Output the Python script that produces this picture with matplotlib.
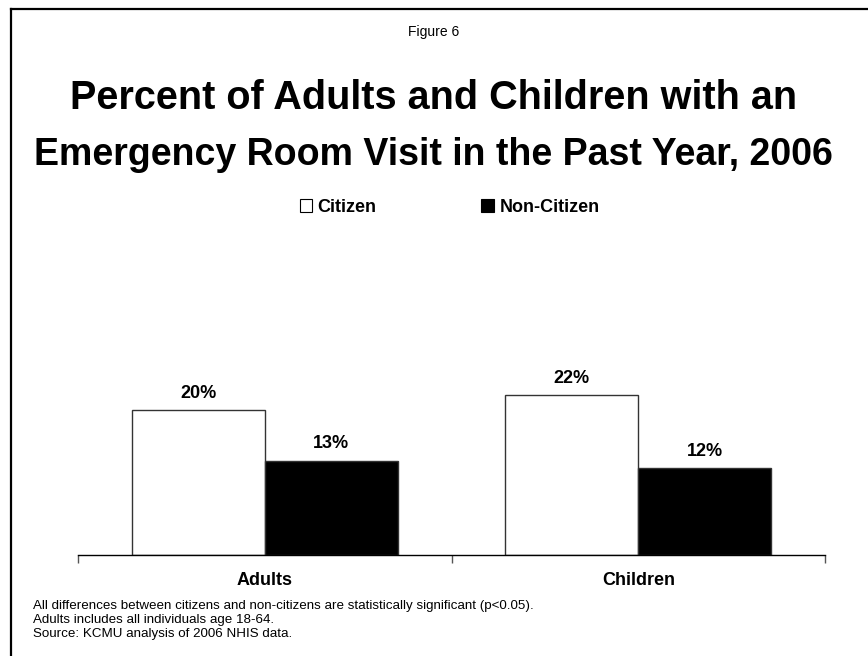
import matplotlib.pyplot as plt
from matplotlib.patches import Patch
from matplotlib.lines import Line2D
import numpy as np

plt.rcParams['font.family'] = ['Liberation Sans', 'DejaVu Sans']

# -- Data --
groups = ["Adults", "Children"]
series = ["Citizen", "Non-Citizen"]
citizen = [20, 22]
non_citizen = [13, 12]
notes = [
    "All differences between citizens and non-citizens are statistically significant (p<0.05).",
    "Adults includes all individuals age 18-64.",
    "Source: KCMU analysis of 2006 NHIS data.",
]

# -- Figure --
fig = plt.figure(figsize=(8.68, 6.56), dpi=100)
ax = fig.add_axes([0.0899, 0.154, 0.8606, 0.3316])

x = np.arange(len(groups))
w = 0.356
b1 = ax.bar(x - w / 2, citizen, w, color="white", edgecolor="#333333", linewidth=1)
b2 = ax.bar(x + w / 2, non_citizen, w, color="black", edgecolor="#333333", linewidth=1)

for bars, vals in ((b1, citizen), (b2, non_citizen)):
    for r, v in zip(bars, vals):
        ax.annotate(f"{v}%", (r.get_x() + r.get_width() / 2, v),
                    xytext=(0, 6), textcoords="offset points",
                    ha="center", va="bottom", fontsize=13, fontweight="bold")

ax.set_xlim(-0.5, 1.5)
ax.set_ylim(0, 30)
for s in ("top", "right", "left"):
    ax.spines[s].set_visible(False)
ax.spines["bottom"].set_linewidth(1)
ax.set_yticks([])

ax.set_xticks(x)
ax.set_xticklabels(groups, fontsize=13, fontweight="bold")
ax.tick_params(axis="x", which="major", length=0, pad=12)
ax.set_xticks([-0.5, 0.5, 1.5], minor=True)
ax.tick_params(axis="x", which="minor", length=6, width=1, color="#555555")

# -- Legend --
handles = [Patch(facecolor="white", edgecolor="black", linewidth=0.8),
           Patch(facecolor="black", edgecolor="black", linewidth=0.8)]
leg = fig.legend(handles, series, loc="center", bbox_to_anchor=(0.518, 0.684),
                 ncol=2, frameon=False, handlelength=0.7, handleheight=0.7,
                 handletextpad=0.3, columnspacing=5.8,
                 prop={"size": 13, "weight": "bold"})

# -- Titles --
fig.text(0.499, 1 - 32 / 656, "Figure 6", ha="center", va="center", fontsize=10)
fig.text(0.499, 1 - 98 / 656, "Percent of Adults and Children with an",
         ha="center", va="center", fontsize=28.5, fontweight="bold")
fig.text(0.499, 1 - 155 / 656, "Emergency Room Visit in the Past Year, 2006",
         ha="center", va="center", fontsize=27, fontweight="bold")

# -- Footnotes --
for i, line in enumerate(notes):
    fig.text(33 / 868, 1 - (606 + 14 * i) / 656, line, ha="left", va="center", fontsize=9.6)

# -- Frame lines (left and top) --
fig.add_artist(Line2D([10.5 / 868, 10.5 / 868], [0, 1 - 8.5 / 656],
                      transform=fig.transFigure, color="black", linewidth=1.6))
fig.add_artist(Line2D([10.5 / 868, 1], [1 - 8.5 / 656, 1 - 8.5 / 656],
                      transform=fig.transFigure, color="black", linewidth=1.6))

fig.savefig("out.png", dpi=100)
